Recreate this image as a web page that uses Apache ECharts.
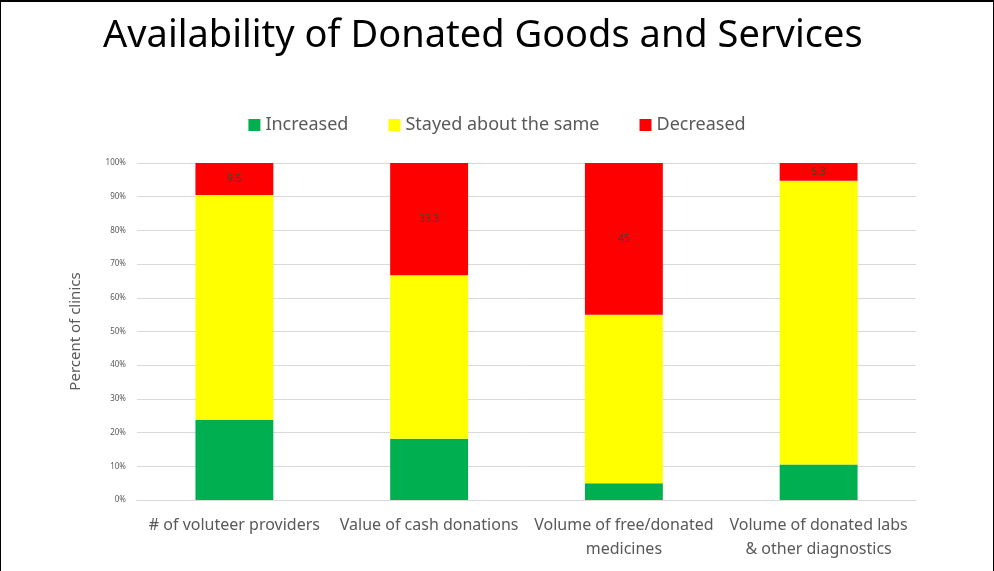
<!DOCTYPE html>
<html>
<head>
<meta charset="utf-8">
<script src="https://cdn.jsdelivr.net/npm/echarts@6/dist/echarts.min.js"></script>
<style>
  html, body { margin: 0; padding: 0; background: #fff; }
  #frame { position: absolute; left: 0; top: 0; width: 994px; height: 580px;
           border-top: 2px solid #000; border-left: 1px solid #000; border-right: 1px solid #000; box-sizing: border-box; }
  #chart { position: absolute; left: 0; top: 0; width: 994px; height: 571px; }
</style>
</head>
<body>
<div id="chart"></div>
<div id="frame"></div>
<script>
// Survey categories and the share of clinics (in %) for each response
const categories = [
  '# of voluteer providers',
  'Value of cash donations',
  'Volume of free/donated\nmedicines',
  'Volume of donated labs\n& other diagnostics'
];
const increased = [23.8, 18.2, 5, 10.5];
const stayedSame = [66.7, 48.5, 50, 84.2];
const decreased = [9.5, 33.3, 45, 5.3];
const yTicks = [0, 10, 20, 30, 40, 50, 60, 70, 80, 90, 100];

const chart = echarts.init(document.getElementById('chart'));
const font = 'Noto Sans';

chart.setOption({
  backgroundColor: '#ffffff',
  animation: false,
  title: {
    text: 'Availability of Donated Goods and Services',
    left: 98, top: 12,
    textStyle: { fontFamily: font, fontSize: 38, fontWeight: 'normal', color: '#000' }
  },
  legend: {
    top: 111, left: 'center',
    itemWidth: 12, itemHeight: 12, itemGap: 40,
    icon: 'rect',
    textStyle: { fontFamily: font, fontSize: 18, color: '#595959' },
    data: ['Increased', 'Stayed about the same', 'Decreased']
  },
  grid: { left: 137, right: 78, top: 163, bottom: 71, containLabel: false },
  xAxis: {
    type: 'category',
    data: categories,
    axisLine: { lineStyle: { color: '#d9d9d9' } },
    axisTick: { show: false },
    axisLabel: { fontFamily: font, fontSize: 16, color: '#595959', margin: 13, lineHeight: 24, interval: 0 }
  },
  yAxis: {
    type: 'value',
    min: yTicks[0], max: yTicks[yTicks.length - 1], interval: 10,
    name: 'Percent of clinics',
    nameLocation: 'middle', nameGap: 54, nameRotate: 90,
    nameTextStyle: { fontFamily: font, fontSize: 15, color: '#595959' },
    axisLine: { show: false },
    axisTick: { show: false },
    axisLabel: { fontFamily: font, fontSize: 8, color: '#595959', margin: 11, formatter: '{value}%' },
    splitLine: { lineStyle: { color: '#d9d9d9', width: 1 } }
  },
  series: [
    { name: 'Increased', type: 'bar', stack: 'all', data: increased, barWidth: '40%',
      itemStyle: { color: '#00b050' } },
    { name: 'Stayed about the same', type: 'bar', stack: 'all', data: stayedSame, barWidth: '40%',
      itemStyle: { color: '#ffff00' } },
    { name: 'Decreased', type: 'bar', stack: 'all', data: decreased, barWidth: '40%',
      itemStyle: { color: '#ff0000' },
      label: { show: true, position: 'inside', fontFamily: font, fontSize: 10, color: '#404040' } }
  ]
});
</script>
</body>
</html>
